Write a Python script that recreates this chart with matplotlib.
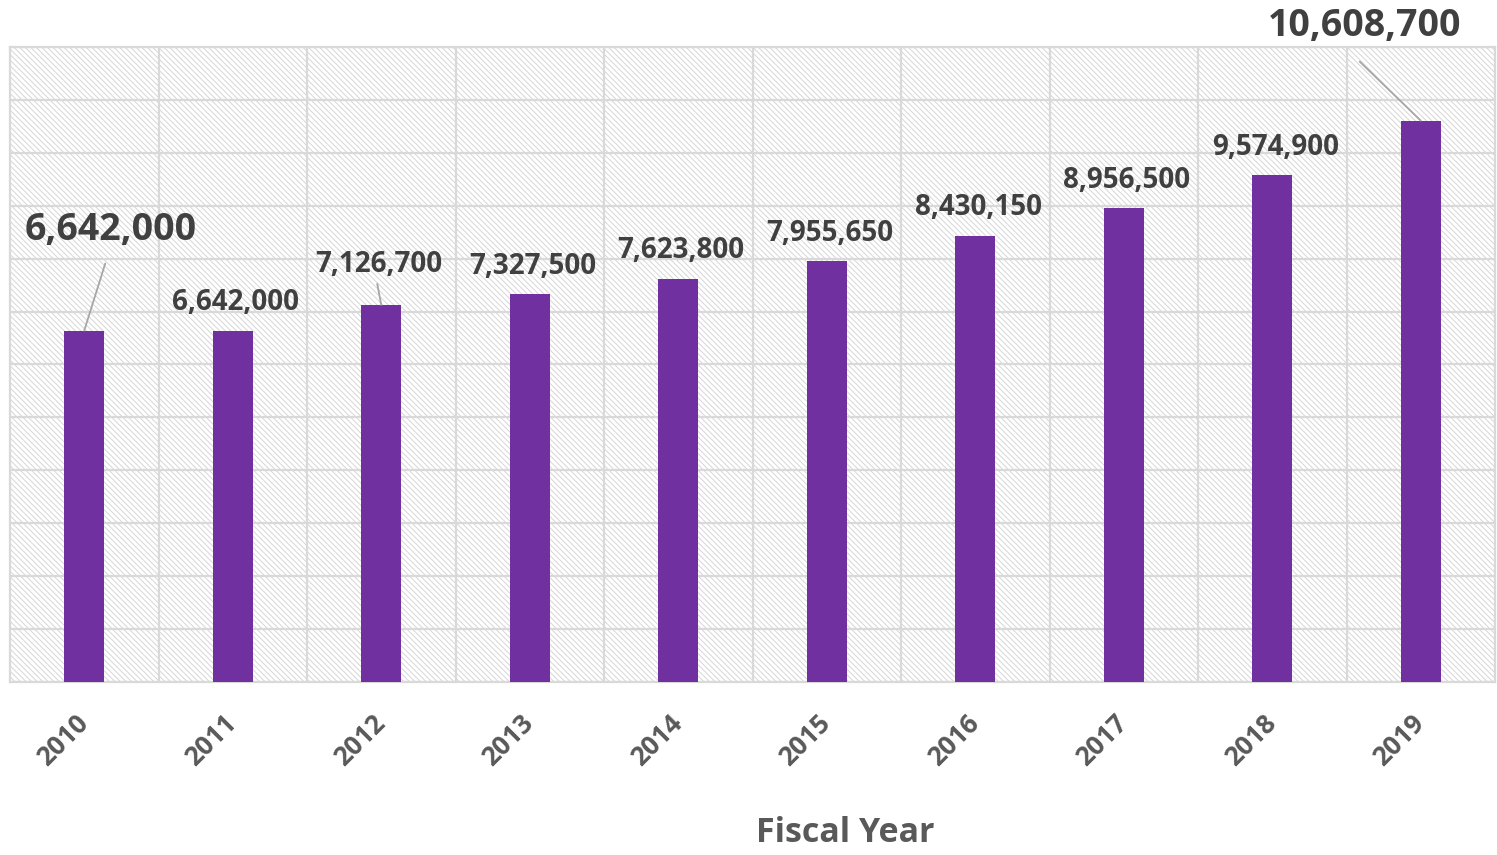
import matplotlib.pyplot as plt
import numpy as np
from matplotlib.patches import Rectangle
from matplotlib.ticker import MultipleLocator, FixedLocator

plt.rcParams['font.family'] = ['Open Sans', 'DejaVu Sans']
plt.rcParams['font.weight'] = 'bold'
plt.rcParams['hatch.linewidth'] = 0.7

years = ["2010", "2011", "2012", "2013", "2014", "2015", "2016", "2017", "2018", "2019"]
budget = [6642000, 6642000, 7126700, 7327500, 7623800, 7955650, 8430150, 8956500, 9574900, 10608700]

bar_color = "#7030A0"
grid_color = "#d9d9d9"

fig = plt.figure(figsize=(14.97, 8.55), dpi=100)
ax = fig.add_axes([10/1497, 1 - 682/855, 1485/1497, 635/855])

x = np.arange(len(years))

# hatched background for the plot area
ax.add_patch(Rectangle((0, 0), 1, 1, transform=ax.transAxes, facecolor="white",
                       edgecolor="#d6d6d6", hatch="\\" * 6, lw=0, zorder=0))

ax.bar(x, budget, width=0.27, color=bar_color, zorder=3)

ax.set_xlim(-0.5, len(years) - 0.5)
ax.set_ylim(0, 12000000)
ax.yaxis.set_major_locator(MultipleLocator(1000000))
ax.xaxis.set_major_locator(FixedLocator(x))
ax.xaxis.set_minor_locator(FixedLocator(x[:-1] + 0.5))
ax.grid(axis="y", which="major", color=grid_color, lw=1.6, zorder=1)
ax.grid(axis="x", which="minor", color=grid_color, lw=1.6, zorder=1)
ax.set_axisbelow(False)
for s in ax.spines.values():
    s.set_color(grid_color)
    s.set_linewidth(1.6)

ax.set_yticklabels([])
ax.tick_params(axis="y", length=0)
ax.tick_params(axis="x", which="both", length=0, pad=27, labelsize=19, labelcolor="#595959")
ax.set_xticklabels(years)
for lab in ax.get_xticklabels():
    lab.set_rotation(45)
    lab.set_ha("right")
    lab.set_va("center")
    lab.set_rotation_mode("anchor")

# value labels: (dx, dy) in pixels from the bar top, font size
label_pos = {0: (26, 101, 27), 2: (-2, 40, 20), 9: (-56, 95, 27)}
# leader lines: start offset in pixels from the bar top
leaders = {0: (21, 67), 2: (-4, 21), 9: (-61, 59)}

for i, v in enumerate(budget):
    dx, dy, fs = label_pos.get(i, (3, 28, 20))
    ax.annotate(f"{v:,}", xy=(i, v), xytext=(dx, dy), textcoords="offset pixels",
                ha="center", va="center", fontsize=fs, fontweight="bold",
                color="#404040", zorder=5, annotation_clip=False)
    if i in leaders:
        ax.annotate("", xy=(i, v), xytext=leaders[i], textcoords="offset pixels",
                    arrowprops=dict(arrowstyle="-", color="#a6a6a6", lw=1.3,
                                    shrinkA=0, shrinkB=0), zorder=4)

fig.text(845/1497, 1 - 833/855, "Fiscal Year", ha="center", va="center",
         fontsize=24.5, fontweight="bold", color="#595959")

fig.savefig("out.png", dpi=100)
